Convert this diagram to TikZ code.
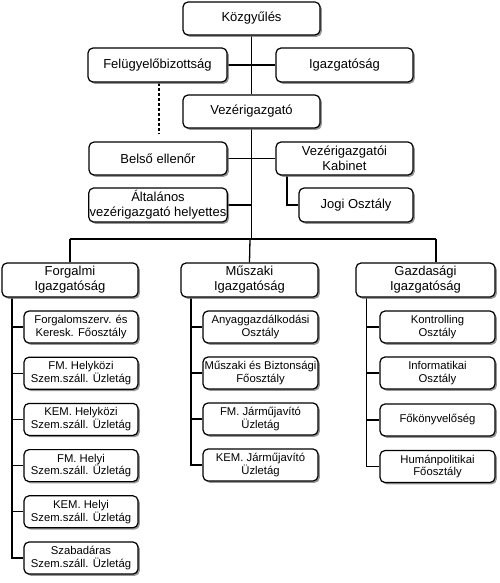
\documentclass[tikz,border=0pt]{standalone}
\usepackage{fontspec}
\setmainfont{Liberation Sans}
\usetikzlibrary{shadows,backgrounds}
\tikzset{
  box/.style={draw=black, fill=white, line width=1.2pt, rounded corners=5pt,
    align=center, inner xsep=1pt, inner ysep=1pt,
    drop shadow={shadow xshift=1.8pt, shadow yshift=-1.8pt, fill=black!55, opacity=0.75}},
  mainbox/.style={box, font=\fontsize{13}{15}\selectfont, minimum height=34pt},
  subbox/.style={box, font=\fontsize{11.3}{12.9}\selectfont, minimum height=32pt, minimum width=114pt},
  conn/.style={draw=black, line width=1.3pt},
  dashline/.style={draw=black, line width=2pt, dash pattern=on 3pt off 2pt},
}
\begin{document}
\begin{tikzpicture}[x=1pt,y=-1pt]
\useasboundingbox (0,0) rectangle (500,583);
% top level
\node[mainbox, minimum width=137pt, minimum height=33pt] (kozgy) at (251.5,18.5) {Közgyűlés};
\node[mainbox, minimum width=139pt] (felugy) at (157.5,65) {Felügyelőbizottság};
\node[mainbox, minimum width=137pt] (igazg) at (344.5,65) {Igazgatóság};
\node[mainbox, minimum width=137pt, minimum height=33pt] (vezer) at (251.5,111.5) {Vezérigazgató};
\node[mainbox, minimum width=138pt, minimum height=33pt] (belso) at (158,158.5) {Belső ellenőr};
\node[mainbox, minimum width=137pt, minimum height=33pt] (kabinet) at (344.5,158.5) {Vezérigazgatói\\Kabinet};
\node[mainbox, minimum width=138pt] (altal) at (158,205) {Általános\\vezérigazgató helyettes};
\node[mainbox, minimum width=114pt] (jogi) at (356,205) {Jogi Osztály};
% directorates
\node[mainbox, minimum width=136pt] (forg) at (70,280) {Forgalmi\\Igazgatóság};
\node[mainbox, minimum width=137pt] (musz) at (249.5,280) {Műszaki\\Igazgatóság};
\node[mainbox, minimum width=139pt] (gazd) at (425.5,280) {Gazdasági\\Igazgatóság};
% Forgalmi sub units
\node[subbox] (f1) at (81,327) {Forgalomszerv. és\\Keresk. Főosztály};
\node[subbox] (f2) at (81,373.2) {FM. Helyközi\\Szem.száll. Üzletág};
\node[subbox] (f3) at (81,419.4) {KEM. Helyközi\\Szem.száll. Üzletág};
\node[subbox] (f4) at (81,465.6) {FM. Helyi\\Szem.száll. Üzletág};
\node[subbox] (f5) at (81,511.8) {KEM. Helyi\\Szem.száll. Üzletág};
\node[subbox] (f6) at (81,558) {Szabadáras\\Szem.száll. Üzletág};
% Muszaki sub units
\node[subbox, minimum width=115pt] (m1) at (260.5,327) {Anyaggazdálkodási\\Osztály};
\node[subbox, minimum width=115pt] (m2) at (260.5,373) {Műszaki és Biztonsági\\Főosztály};
\node[subbox, minimum width=115pt] (m3) at (260.5,419) {FM. Járműjavító\\Üzletág};
\node[subbox, minimum width=115pt] (m4) at (260.5,465) {KEM. Járműjavító\\Üzletág};
% Gazdasagi sub units
\node[subbox, minimum width=115pt] (g1) at (437.5,327) {Kontrolling\\Osztály};
\node[subbox, minimum width=115pt] (g2) at (437.5,373) {Informatikai\\Osztály};
\node[subbox, minimum width=115pt] (g3) at (437.5,420) {Főkönyvelőség};
\node[subbox, minimum width=115pt] (g4) at (437.5,466.5) {Humánpolitikai\\Főosztály};
% helper coordinates
\coordinate (bus) at (251.5,239);
\coordinate (busL) at (70,239);
\coordinate (busM) at (250,239);
\coordinate (busR) at (436,239);
\coordinate (altj) at (251.5,205);
\coordinate (kabx) at (287,175);
\coordinate (fsp) at (12,0);
\coordinate (msp) at (191,0);
\coordinate (gsp) at (366.5,0);
\coordinate (dend) at (159,134);
\begin{scope}[on background layer]
\draw[conn] (kozgy.south) -- (vezer.north);
\draw[conn] (felugy.east) -- (igazg.west);
\draw[conn] (vezer.south) -- (bus);
\draw[conn] (belso.east) -- (kabinet.west);
\draw[conn] (altal.east) -- (altj);
\draw[conn] (kabinet.south -| kabx) |- (jogi.west);
\draw[dashline] (felugy.south -| dend) -- (dend);
\draw[conn] (busL) -- (busR);
\draw[conn] (busL) -- (forg.north);
\draw[conn] (busM) -- (musz.north);
\draw[conn] (busR) -- (gazd.north -| busR);
\draw[conn] (forg.south -| fsp) |- (f6.west);
\foreach \n in {f1,f2,f3,f4,f5} \draw[conn] (\n.west -| fsp) -- (\n.west);
\draw[conn] (musz.south -| msp) |- (m4.west);
\foreach \n in {m1,m2,m3} \draw[conn] (\n.west -| msp) -- (\n.west);
\draw[conn] (gazd.south -| gsp) |- (g4.west);
\foreach \n in {g1,g2,g3} \draw[conn] (\n.west -| gsp) -- (\n.west);
\end{scope}
\end{tikzpicture}
\end{document}
